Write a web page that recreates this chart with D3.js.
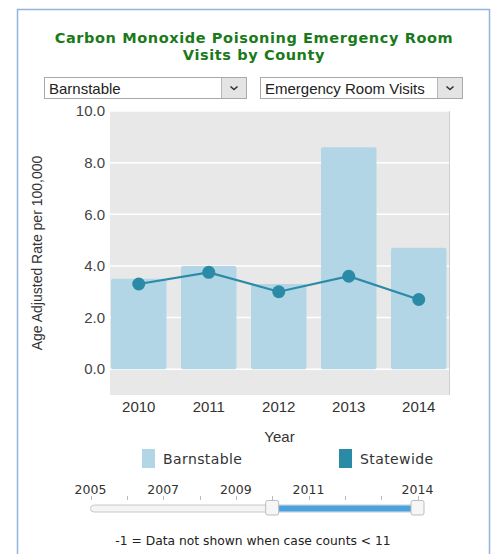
<!DOCTYPE html>
<html>
<head>
<meta charset="utf-8">
<script src="https://cdn.jsdelivr.net/npm/d3@7"></script>
<style>
  body { margin: 0; background: #fff; }
  svg { display: block; }
</style>
</head>
<body>
<div id="chart"></div>
<script>
// chart data
let years = ["2010", "2011", "2012", "2013", "2014"];
let countyRates = [3.5, 4.0, 3.3, 8.6, 4.7];
let stateRates = [3.3, 3.75, 3.0, 3.6, 2.7];
let yTicks = [0, 2, 4, 6, 8, 10];
let sliderYears = [2005, 2006, 2007, 2008, 2009, 2010, 2011, 2012, 2013, 2014];
let sliderLabels = [2005, 2007, 2009, 2011, 2014];
let sliderRange = [2010, 2014];

let svgWidth = 495;
let svgHeight = 554;

let plot = { left: 110, right: 449, top: 111, bottom: 395 };

let barColor = "#b2d6e6";
let lineColor = "#2b8aa6";

let svg = d3.select("#chart")
    .append("svg")
    .attr("width", svgWidth)
    .attr("height", svgHeight);

// outer frame
svg.append("rect")
    .attr("x", 17.5)
    .attr("y", 9.5)
    .attr("width", 472)
    .attr("height", 560)
    .attr("fill", "none")
    .attr("stroke", "#92b3dc")
    .attr("stroke-width", 1.5);

// title
let title = svg.append("text")
    .attr("text-anchor", "middle")
    .attr("font-family", "DejaVu Sans")
    .attr("font-weight", "bold")
    .attr("font-size", "14.5px")
    .attr("letter-spacing", "0.6px")
    .attr("fill", "#1a7a1a");
title.append("tspan").attr("x", 254).attr("y", 42.5).text("Carbon Monoxide Poisoning Emergency Room");
title.append("tspan").attr("x", 254).attr("y", 59.5).text("Visits by County");

// dropdowns
function dropdown(x, w, label) {
    let g = svg.append("g").attr("transform", `translate(${x}, 77)`);
    g.append("rect")
        .attr("x", 0.5).attr("y", 0.5)
        .attr("width", w).attr("height", 21)
        .attr("fill", "#fff")
        .attr("stroke", "#a9a9a9");
    g.append("rect")
        .attr("x", w - 24.5).attr("y", 1)
        .attr("width", 24.5).attr("height", 20)
        .attr("fill", "#e4e4e4");
    g.append("line")
        .attr("x1", w - 24.5).attr("x2", w - 24.5)
        .attr("y1", 1).attr("y2", 21)
        .attr("stroke", "#b8b8b8");
    g.append("path")
        .attr("d", `M${w - 15.5},9.5 L${w - 12},12.5 L${w - 8.5},9.5`)
        .attr("fill", "none")
        .attr("stroke", "#333")
        .attr("stroke-width", 1.6);
    g.append("text")
        .attr("x", 5)
        .attr("y", 16.5)
        .attr("font-family", "Liberation Sans")
        .attr("font-size", "15px")
        .attr("fill", "#222")
        .text(label);
}
dropdown(44, 202, "Barnstable");
dropdown(260, 202, "Emergency Room Visits");

// scales
let xScale = d3.scaleBand()
    .domain(years)
    .range([111, 446.5])
    .paddingInner(0.207)
    .paddingOuter(0);

let yScale = d3.scaleLinear()
    .domain([-1, 10])
    .range([plot.bottom, plot.top]);

let chartGroup = svg.append("g");

// plot background
chartGroup.append("rect")
    .attr("x", plot.left)
    .attr("y", plot.top)
    .attr("width", plot.right - plot.left)
    .attr("height", plot.bottom - plot.top)
    .attr("fill", "#e8e8e8");

chartGroup.append("line")
    .attr("x1", plot.right + 0.5).attr("x2", plot.right + 0.5)
    .attr("y1", plot.top).attr("y2", plot.bottom)
    .attr("stroke", "#cfcfcf");

// gridlines
chartGroup.selectAll(".grid")
    .data(yTicks)
    .enter()
    .append("line")
    .attr("x1", plot.left)
    .attr("x2", plot.right)
    .attr("y1", d => yScale(d))
    .attr("y2", d => yScale(d))
    .attr("stroke", "#fff")
    .attr("stroke-width", 1.5);

// y axis
let leftAxis = d3.axisLeft(yScale)
    .tickValues(yTicks)
    .tickFormat(d3.format(".1f"))
    .tickSize(0)
    .tickPadding(5);

let yAxis = chartGroup.append("g")
    .attr("transform", `translate(${plot.left}, 0)`)
    .call(leftAxis);
yAxis.select(".domain").remove();
yAxis.selectAll("text")
    .attr("font-family", "Liberation Sans")
    .attr("font-size", "15px")
    .attr("fill", "#444");

// bars
chartGroup.selectAll(".bar")
    .data(countyRates)
    .enter()
    .append("rect")
    .attr("x", (d, i) => xScale(years[i]))
    .attr("y", d => yScale(d))
    .attr("width", xScale.bandwidth())
    .attr("height", d => yScale(0) - yScale(d))
    .attr("rx", 2)
    .attr("fill", barColor);

// statewide line
let line = d3.line()
    .x((d, i) => xScale(years[i]) + xScale.bandwidth() / 2)
    .y(d => yScale(d));

chartGroup.append("path")
    .datum(stateRates)
    .attr("d", line)
    .attr("fill", "none")
    .attr("stroke", lineColor)
    .attr("stroke-width", 2.2);

chartGroup.selectAll(".pt")
    .data(stateRates)
    .enter()
    .append("circle")
    .attr("cx", (d, i) => xScale(years[i]) + xScale.bandwidth() / 2)
    .attr("cy", d => yScale(d))
    .attr("r", 6.5)
    .attr("fill", lineColor);

// x axis
let bottomAxis = d3.axisBottom(xScale)
    .tickSize(0)
    .tickPadding(6);

let xAxis = chartGroup.append("g")
    .attr("transform", `translate(0, ${plot.bottom})`)
    .call(bottomAxis);
xAxis.select(".domain").remove();
xAxis.selectAll("text")
    .attr("font-family", "Liberation Sans")
    .attr("font-size", "15px")
    .attr("fill", "#333");

// axis titles
chartGroup.append("text")
    .attr("x", (plot.left + plot.right) / 2)
    .attr("y", 442)
    .attr("text-anchor", "middle")
    .attr("font-family", "Liberation Sans")
    .attr("font-size", "15px")
    .attr("fill", "#333")
    .text("Year");

chartGroup.append("text")
    .attr("transform", "rotate(-90)")
    .attr("x", -253)
    .attr("y", 42)
    .attr("text-anchor", "middle")
    .attr("font-family", "Liberation Sans")
    .attr("font-size", "14px")
    .attr("fill", "#333")
    .text("Age Adjusted Rate per 100,000");

// legend
let legendItems = [
    { name: "Barnstable", color: barColor, x: 142 },
    { name: "Statewide", color: lineColor, x: 339 }
];
let legend = svg.selectAll(".legend")
    .data(legendItems)
    .enter()
    .append("g")
    .attr("transform", d => `translate(${d.x}, 449)`);
legend.append("rect")
    .attr("width", 13)
    .attr("height", 19)
    .attr("fill", d => d.color);
legend.append("text")
    .attr("x", 21)
    .attr("y", 15)
    .attr("font-family", "DejaVu Sans")
    .attr("font-size", "14px")
    .attr("letter-spacing", "0.4px")
    .attr("fill", "#333")
    .text(d => d.name);

// year range slider
let sliderScale = d3.scaleLinear()
    .domain([2005, 2014])
    .range([90.5, 417.5]);

let slider = svg.append("g");

slider.selectAll(".stick")
    .data(sliderYears)
    .enter()
    .append("line")
    .attr("x1", d => Math.round(sliderScale(d)) + 0.5)
    .attr("x2", d => Math.round(sliderScale(d)) + 0.5)
    .attr("y1", 496)
    .attr("y2", 500)
    .attr("stroke", "#bbb");

slider.selectAll(".slabel")
    .data(sliderLabels)
    .enter()
    .append("text")
    .attr("x", d => sliderScale(d))
    .attr("y", 494)
    .attr("text-anchor", "middle")
    .attr("font-family", "DejaVu Sans")
    .attr("font-size", "12.5px")
    .attr("fill", "#333")
    .text(d => d);

slider.append("rect")
    .attr("x", sliderScale(2005))
    .attr("y", 505)
    .attr("width", sliderScale(2014) - sliderScale(2005))
    .attr("height", 7)
    .attr("rx", 3.5)
    .attr("fill", "#f4f4f4")
    .attr("stroke", "#c8c8c8");

slider.append("rect")
    .attr("x", sliderScale(sliderRange[0]))
    .attr("y", 505.5)
    .attr("width", sliderScale(sliderRange[1]) - sliderScale(sliderRange[0]))
    .attr("height", 6)
    .attr("fill", "#4aa3df");

slider.selectAll(".handle")
    .data(sliderRange)
    .enter()
    .append("rect")
    .attr("x", d => sliderScale(d) - 6.5)
    .attr("y", 500.5)
    .attr("width", 13)
    .attr("height", 14.5)
    .attr("rx", 2)
    .attr("fill", "#f6f6f6")
    .attr("stroke", "#bdbdbd");

// footnote
svg.append("text")
    .attr("x", 253)
    .attr("y", 545)
    .attr("text-anchor", "middle")
    .attr("font-family", "DejaVu Sans")
    .attr("font-size", "12.3px")
    .attr("fill", "#222")
    .text("-1 = Data not shown when case counts < 11");
</script>
</body>
</html>
